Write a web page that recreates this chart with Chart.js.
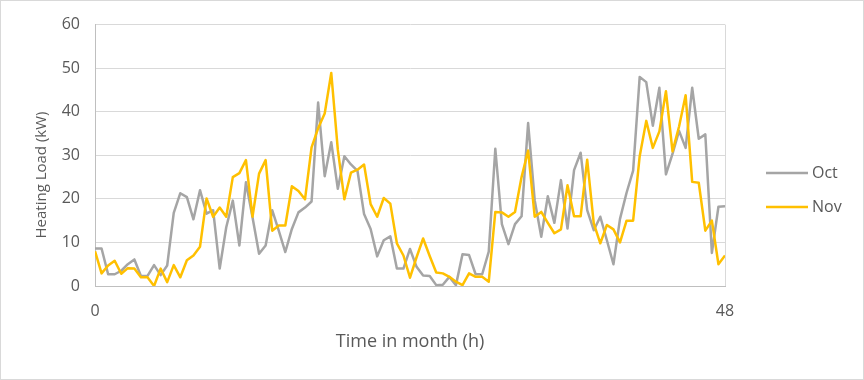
<!DOCTYPE html>
<html>
<head>
<meta charset="utf-8">
<script src="https://cdn.jsdelivr.net/npm/chart.js@4"></script>
<style>
  html, body { margin: 0; padding: 0; background: #fff; }
  #wrap { width: 864px; height: 380px; }
</style>
</head>
<body>
<div id="wrap"><canvas id="heatChart" width="864" height="380"></canvas></div>
<script>
// half-hourly heating load (kW)
const octLoad = [
    8.6, 8.6, 2.7, 2.7, 3.5, 5.0, 6.1, 2.3, 2.3, 4.8,
    2.5, 4.7, 16.8, 21.3, 20.4, 15.3, 22.0, 16.6, 17.4, 4.0,
    13.5, 19.6, 9.3, 23.8, 15.8, 7.4, 9.3, 17.4, 12.7, 7.8,
    13.1, 16.9, 18.0, 19.4, 42.1, 25.2, 33.0, 22.3, 29.8, 27.9,
    26.4, 16.5, 13.1, 6.8, 10.5, 11.4, 4.0, 4.0, 8.5, 4.4,
    2.4, 2.3, 0.2, 0.3, 2.1, 0.2, 7.3, 7.1, 2.7, 2.7,
    7.9, 31.5, 14.2, 9.6, 14.2, 16.0, 37.4, 19.7, 11.3, 20.6,
    14.5, 24.3, 13.2, 26.6, 30.6, 17.4, 12.8, 15.9, 10.5, 5.0,
    15.4, 21.4, 26.5, 48.0, 46.8, 36.8, 45.5, 25.6, 30.3, 35.6,
    31.7, 45.5, 33.8, 34.8, 7.6, 18.2, 18.3
];
const novLoad = [
    8.0, 2.9, 4.7, 5.8, 2.8, 4.1, 4.0, 2.0, 2.0, 0.0,
    4.0, 0.9, 4.8, 2.0, 5.9, 7.0, 9.0, 20.1, 15.9, 18.0,
    15.9, 25.0, 25.9, 28.9, 15.9, 25.8, 28.9, 12.7, 13.9, 13.9,
    22.9, 21.8, 19.9, 31.8, 36.2, 39.6, 48.9, 31.3, 19.9, 26.0,
    26.7, 27.9, 18.8, 15.9, 20.2, 18.9, 9.8, 7.0, 1.9, 6.6,
    10.9, 6.9, 3.1, 2.9, 2.1, 1.0, 0.2, 2.9, 2.1, 2.1,
    1.0, 17.0, 16.9, 15.9, 17.0, 25.0, 31.1, 15.9, 17.0, 14.5,
    12.1, 13.0, 23.1, 16.0, 16.0, 29.0, 14.4, 9.8, 14.0, 13.0,
    10.0, 15.0, 15.0, 29.8, 37.9, 31.7, 35.5, 44.7, 30.9, 36.6,
    43.8, 23.9, 23.7, 12.7, 15.0, 5.0, 7.0
];
const seriesNames = ['Oct', 'Nov'];
const xTickValues = [0, 48];
const yTickMax = 60;

// time stamps every half hour
const hours = octLoad.map((v, i) => i / 2);

const textColor = '#595959';
const fontFamily = "'Open Sans', 'Liberation Sans', sans-serif";

// white page plus thin outer frame
const frame = {
    id: 'frame',
    beforeDraw(chart) {
        const ctx = chart.ctx;
        ctx.save();
        ctx.fillStyle = '#fff';
        ctx.fillRect(0, 0, chart.width, chart.height);
        ctx.restore();
    },
    afterDraw(chart) {
        const ctx = chart.ctx;
        ctx.save();
        ctx.strokeStyle = '#d9d9d9';
        ctx.lineWidth = 1;
        ctx.strokeRect(0.5, 0.5, chart.width - 1, chart.height - 1);
        ctx.restore();
    }
};

// y title sits a bit below the plot's middle in the original
const yTitle = {
    id: 'yTitle',
    afterDraw(chart) {
        const ctx = chart.ctx;
        ctx.save();
        ctx.translate(42, 175);
        ctx.rotate(-Math.PI / 2);
        ctx.font = '15px ' + fontFamily;
        ctx.fillStyle = textColor;
        ctx.textAlign = 'center';
        ctx.textBaseline = 'middle';
        ctx.fillText('Heating Load (kW)', 0, 0);
        ctx.restore();
    }
};

// legend to the right of the plot, line + name
const sideLegend = {
    id: 'sideLegend',
    afterDraw(chart) {
        const ctx = chart.ctx;
        const x0 = chart.chartArea.right + 41;
        ctx.save();
        ctx.font = '16px ' + fontFamily;
        ctx.textBaseline = 'middle';
        ctx.fillStyle = textColor;
        chart.data.datasets.forEach((ds, i) => {
            const y = 173 + i * 34;
            ctx.strokeStyle = ds.borderColor;
            ctx.lineWidth = 2.5;
            ctx.beginPath();
            ctx.moveTo(x0, y);
            ctx.lineTo(x0 + 42, y);
            ctx.stroke();
            ctx.fillText(ds.label, x0 + 46, y);
        });
        ctx.restore();
    }
};

const ctx = document.getElementById('heatChart').getContext('2d');
const heatChart = new Chart(ctx, {
    type: 'line',
    data: {
        labels: hours,
        datasets: [{
            label: seriesNames[0],
            data: octLoad,
            borderColor: '#a5a5a5',
            backgroundColor: '#a5a5a5',
            borderWidth: 2.5,
            pointRadius: 0,
            tension: 0,
            borderJoinStyle: 'round',
            order: 1
        }, {
            label: seriesNames[1],
            data: novLoad,
            borderColor: '#ffc000',
            backgroundColor: '#ffc000',
            borderWidth: 2.5,
            pointRadius: 0,
            tension: 0,
            borderJoinStyle: 'round',
            order: 0
        }]
    },
    options: {
        responsive: false,
        animation: false,
        devicePixelRatio: 1,
        layout: {
            padding: { top: 24, right: 139, bottom: 0, left: 0 }
        },
        plugins: {
            legend: { display: false },
            tooltip: { enabled: false }
        },
        scales: {
            x: {
                type: 'linear',
                min: 0,
                max: 48,
                afterBuildTicks: (scale) => {
                    scale.ticks = xTickValues.map(v => ({ value: v }));
                },
                afterFit: (scale) => {
                    scale.height = 94;
                },
                grid: {
                    color: '#d9d9d9',
                    drawTicks: false
                },
                border: { color: '#bfbfbf', width: 1 },
                ticks: {
                    color: textColor,
                    font: { family: fontFamily, size: 16 },
                    padding: 16,
                    maxRotation: 0
                },
                title: {
                    display: true,
                    text: 'Time in month (h)',
                    color: textColor,
                    font: { family: fontFamily, size: 18 },
                    padding: { top: 4, bottom: 27 }
                }
            },
            y: {
                min: 0,
                max: yTickMax,
                afterFit: (scale) => {
                    scale.width = 95;
                },
                grid: {
                    color: '#d9d9d9',
                    drawTicks: false
                },
                border: { color: '#bfbfbf', width: 1 },
                ticks: {
                    stepSize: 10,
                    color: textColor,
                    font: { family: fontFamily, size: 16 },
                    padding: 15
                }
            }
        }
    },
    plugins: [frame, yTitle, sideLegend]
});
</script>
</body>
</html>
